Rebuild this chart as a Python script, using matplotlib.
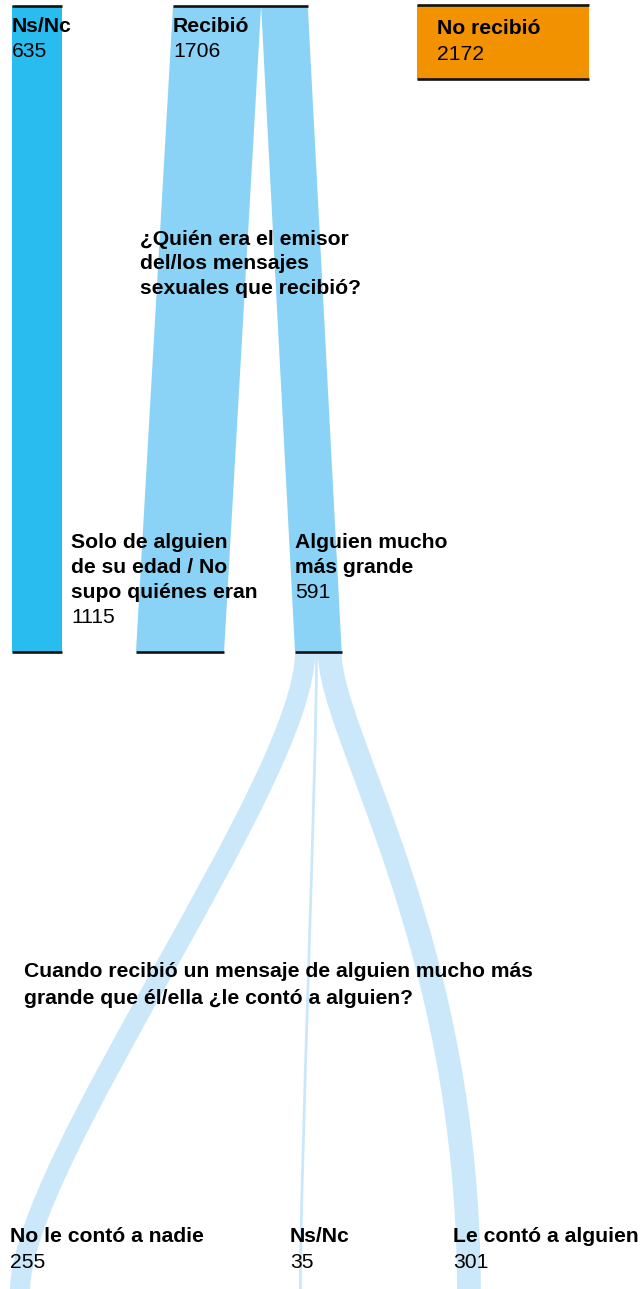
import matplotlib
matplotlib.use("Agg")
import matplotlib.pyplot as plt
from matplotlib.patches import Polygon, Rectangle, PathPatch
from matplotlib.path import Path

# ---------------- data ----------------
top_labels = ["Ns/Nc", "Recibió", "No recibió"]
top_values = [635, 1706, 2172]

mid_labels = ["Solo de alguien\nde su edad / No\nsupo quiénes eran", "Alguien mucho\nmás grande"]
mid_values = [1115, 591]

bottom_labels = ["No le contó a nadie", "Ns/Nc", "Le contó a alguien"]
bottom_values = [255, 35, 301]

question_1 = "¿Quién era el emisor\ndel/los mensajes\nsexuales que recibió?"
question_2 = "Cuando recibió un mensaje de alguien mucho más\ngrande que él/ella ¿le contó a alguien?"

# ---------------- style / layout ----------------
W, H = 643, 1289
K = 0.079                      # px per respondent
FONT = "Liberation Sans"
FS = 15.2
C_NSNC = "#29bdef"
C_REC = "#8bd3f6"
C_LOW = "#cae8f9"
C_NO = "#f29200"
C_LINE = "#111111"
LW_LINE = 1.9

y_top = 6
y_mid = 651.5
y_bot = H + 2
top_x = [12, 173, 417]
mid_x = [136, 295]
bot_x = [10, 299, 457]
bot_label_x = [10, 290, 453]
curv = [(0.2, 0.2), (0.2, 0.2), (0.13, 0.55)]

fig = plt.figure(figsize=(W / 100, H / 100), dpi=100)
ax = fig.add_axes([0, 0, 1, 1])
ax.set_xlim(0, W)
ax.set_ylim(H, 0)
ax.axis("off")


def hline(x0, x1, y):
    ax.plot([x0, x1], [y, y], color=C_LINE, lw=LW_LINE, solid_capstyle="butt", zorder=5)


def label(x, y, title, value, spacing=25):
    lines = title.split("\n")
    for i, ln in enumerate(lines):
        ax.text(x, y + i * spacing, ln, fontsize=FS, fontweight="bold", family=FONT,
                va="baseline", ha="left", color="black", zorder=10)
    ax.text(x, y + len(lines) * spacing, str(value), fontsize=FS, family=FONT,
            va="baseline", ha="left", color="black", zorder=10)


# --- top: Ns/Nc bar
w0 = top_values[0] * K
ax.add_patch(Rectangle((top_x[0], y_top), w0, y_mid - y_top, color=C_NSNC, lw=0, zorder=1))
hline(top_x[0], top_x[0] + w0, y_top)
hline(top_x[0], top_x[0] + w0, y_mid)
label(top_x[0], 32, top_labels[0], top_values[0])

# --- top: Recibió flows to mid nodes
w1 = top_values[1] * K
src = top_x[1]
for i, v in enumerate(mid_values):
    w = v * K
    poly = [(src, y_top), (src + w, y_top), (mid_x[i] + w, y_mid), (mid_x[i], y_mid)]
    ax.add_patch(Polygon(poly, closed=True, color=C_REC, lw=0, zorder=1))
    hline(mid_x[i], mid_x[i] + w, y_mid)
    src += w
hline(top_x[1], top_x[1] + w1, y_top)
label(top_x[1], 32, top_labels[1], top_values[1])

# --- top: No recibió box
w2 = top_values[2] * K
ax.add_patch(Rectangle((top_x[2], 4.5), w2, 74, color=C_NO, lw=0, zorder=1))
hline(top_x[2], top_x[2] + w2, 4.5)
hline(top_x[2], top_x[2] + w2, 78.5)
label(top_x[2] + 20, 34.5, top_labels[2], top_values[2])

# --- mid labels
label(71, 548, mid_labels[0], mid_values[0])
label(295, 548, mid_labels[1], mid_values[1])

# --- lower flows from "Alguien mucho más grande"
src = mid_x[1]
y0 = y_mid + 1
Hh = y_bot - y0
for i, v in enumerate(bottom_values):
    w = v * K
    xs = src + w / 2
    xe = bot_x[i] + w / 2
    a, b = curv[i]
    verts = [(xs, y0), (xs, y0 + a * Hh), (xe, y_bot - b * Hh), (xe, y_bot)]
    path = Path(verts, [Path.MOVETO, Path.CURVE4, Path.CURVE4, Path.CURVE4])
    ax.add_patch(PathPatch(path, facecolor="none", edgecolor=C_LOW, lw=w * 72 / 100,
                           capstyle="butt", zorder=0))
    src += w

# --- bottom labels
for i in range(3):
    label(bot_label_x[i], 1241.5, bottom_labels[i], bottom_values[i], spacing=26)

# --- questions
for i, ln in enumerate(question_1.split("\n")):
    ax.text(140, 245 + i * 24.3, ln, fontsize=FS, fontweight="bold", family=FONT,
            va="baseline", ha="left", zorder=10)
for i, ln in enumerate(question_2.split("\n")):
    ax.text(24, 977 + i * 26.5, ln, fontsize=FS, fontweight="bold", family=FONT,
            va="baseline", ha="left", zorder=10)

fig.savefig("out.png", dpi=100)
